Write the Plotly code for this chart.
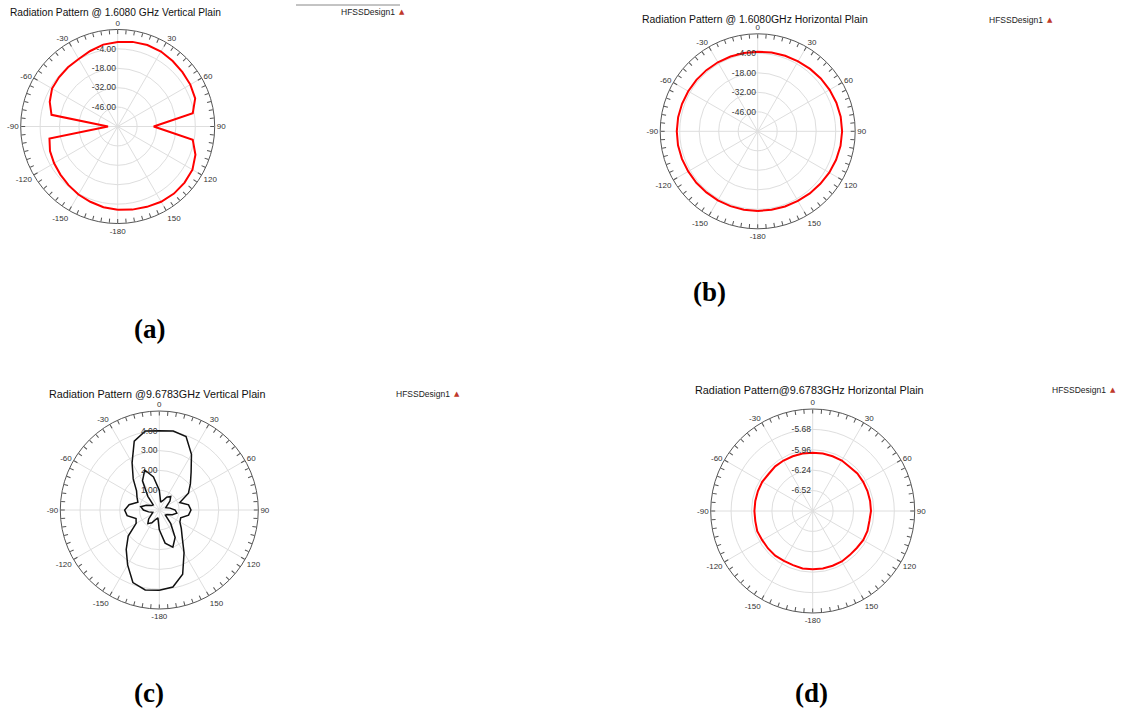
import plotly.graph_objects as go

W, H = 1121, 713

# ---------------- data ----------------
theta = [-180, -170, -160, -150, -140, -130, -120, -110, -100, -90,
         -80, -70, -60, -50, -40, -30, -20, -10, 0, 10, 20, 30, 40, 50,
         60, 70, 80, 90, 100, 110, 120, 130, 140, 150, 160, 170]

# (a) 1.6080 GHz vertical plane, dB
gain_a = [0.0, -0.8, -2.2, -3.3, -4.8, -6.0, -7.0, -8.0, -10.0, -53.0,
          -11.5, -7.8, -5.3, -4.7, -4.2, -3.7, -2.0, 0.0, 0.9, 2.0, 2.6, 2.5, 1.7, 1.0,
          0.5, -0.5, -5.0, -34.0, -5.0, -0.3, 2.3, 3.0, 3.2, 2.7, 1.7, 0.9]

# (b) 1.6080 GHz horizontal plane, dB
gain_b = [-2.8, -2.8, -2.8, -2.8, -2.7, -2.5, -2.4, -2.1, -1.9, -1.9,
          -2.0, -2.2, -2.4, -2.6, -2.7, -2.8, -2.9, -2.9, -2.8, -2.6, -2.3, -2.0, -1.5, -0.9,
          -0.4, 0.1, 0.5, 0.6, 0.4, -0.1, -0.7, -1.3, -1.8, -2.3, -2.6, -2.8]

# (c) 9.6783 GHz vertical plane (two cuts)
gain_c_outer = [4.05, 4.1, 3.9, 3.2, 2.6, 2.05, 1.35, 1.25, 1.65, 1.75,
                1.55, 1.15, 1.3, 1.5, 2.05, 2.75, 3.7, 4.05, 4.0, 4.05, 3.95, 3.25, 2.5, 2.05,
                1.7, 1.1, 1.5, 1.6, 1.5, 1.15, 1.2, 1.45, 1.8, 2.5, 3.45, 3.95]
gain_c_inner = [1.0, 0.4, 0.5, 0.75, 0.9, 0.7, 0.45, 0.35, 0.55, 0.8,
                0.95, 0.7, 0.45, 0.4, 0.9, 1.7, 2.15, 1.7, 1.0, 0.4, 0.5, 0.75, 0.9, 0.7,
                0.45, 0.35, 0.55, 0.8, 0.9, 0.7, 0.45, 0.4, 0.9, 1.6, 2.0, 1.7]

# (d) 9.6783 GHz horizontal plane
gain_d = [-6.00, -6.00, -6.01, -6.01, -6.00, -6.00, -6.00, -5.99, -6.00, -6.00,
          -6.00, -6.00, -6.00, -6.01, -6.00, -6.00, -6.00, -6.00, -6.00, -6.00, -6.00, -6.00, -6.01, -6.00,
          -6.00, -6.00, -6.00, -6.00, -6.01, -6.00, -6.00, -6.01, -6.01, -6.00, -6.00, -6.00]

titles = ["Radiation Pattern @ 1.6080 GHz Vertical Plain",
          "Radiation Pattern @ 1.6080GHz Horizontal Plain",
          "Radiation Pattern @9.6783GHz Vertical Plain",
          "Radiation Pattern@9.6783GHz Horizontal Plain"]
title_sizes = [10.2, 10.45, 10.75, 10.85]
panel_labels = ["(a)", "(b)", "(c)", "(d)"]
legend_text = "HFSSDesign1"

radial_ranges = [[-60, 10], [-60, 10], [0, 5], [-6.8, -5.4]]
radial_ticks = [[-46, -32, -18, -4], [-46, -32, -18, -4], [1, 2, 3, 4],
                [-6.52, -6.24, -5.96, -5.68]]

# angular tick labels (tick positions 0..355 deg, label text in HFSS style)
angle_labels = {0: "0", 30: "30", 60: "60", 90: "90", 120: "120", 150: "150",
                180: "-180", 210: "-150", 240: "-120", 270: "-90", 300: "-60", 330: "-30"}

# ---------------- layout geometry (window pixels) ----------------
centers = [(117.7, 126.5, 97.0), (757.7, 131.3, 97.5), (159.3, 510.0, 99.0), (812.7, 511.0, 102.0)]
title_pos = [(8, 12), (640, 19.5), (47, 394), (693, 390)]
legend_pos = [(339, 12), (987, 20), (394, 394), (1050, 390)]
label_pos = [(149, 329), (709, 292), (149, 693), (811, 693)]

def closed(v):
    return list(v) + [v[0]]

def px(x):
    return x / W

def py(y):
    return 1 - y / H

th_closed = theta + [180]

fig = go.Figure()

layout = dict(width=W, height=H, margin=dict(l=0, r=0, t=0, b=0),
              paper_bgcolor="white", showlegend=False)

tick5 = list(range(0, 360, 5))
ticktext5 = [angle_labels.get(t, "") for t in tick5]

annotations = []
for i in range(4):
    cx, cy, R = centers[i]
    dom = dict(x=[px(cx - R), px(cx + R)], y=[py(cy + R), py(cy - R)])
    gid = "polar%d" % (i + 1) if i else "polar"
    mid = "polar%d" % (i + 5)
    # grid polar (underneath)
    layout[gid] = dict(
        domain=dom, bgcolor="white", hole=0,
        angularaxis=dict(rotation=90, direction="clockwise", dtick=30, showgrid=True,
                         gridcolor="#dedede", gridwidth=1, showticklabels=False,
                         ticks="", showline=False),
        radialaxis=dict(range=radial_ranges[i], tickvals=radial_ticks[i], showgrid=True,
                        gridcolor="#dedede", gridwidth=1, showticklabels=False,
                        ticks="", showline=False),
    )
    # main polar with data, outer ring, ticks and labels
    layout[mid] = dict(
        domain=dom, bgcolor="rgba(0,0,0,0)", hole=0,
        angularaxis=dict(rotation=90, direction="clockwise", tickmode="array",
                         tickvals=tick5, ticktext=ticktext5, showgrid=False,
                         ticks="inside", ticklen=4, tickcolor="#555", tickwidth=1,
                         showline=True, linecolor="#555", linewidth=1,
                         tickfont=dict(family="Liberation Sans", size=8, color="#333")),
        radialaxis=dict(range=radial_ranges[i], tickvals=radial_ticks[i],
                        ticktext=["%.2f" % v for v in radial_ticks[i]],
                        showgrid=False, showline=False, ticks="", angle=90, tickangle=90,
                        side="counterclockwise",
                        tickfont=dict(family="Liberation Sans", size=8.5, color="#333")),
    )
    fig.add_trace(go.Scatterpolar(r=[], theta=[], subplot=gid, mode="lines",
                                  hoverinfo="skip"))

    tx, ty = title_pos[i]
    annotations.append(dict(x=px(tx), y=py(ty), xref="paper", yref="paper",
                            xanchor="left", yanchor="middle", text=titles[i], showarrow=False,
                            font=dict(family="Liberation Sans", size=title_sizes[i], color="#111")))
    lx, ly = legend_pos[i]
    annotations.append(dict(x=px(lx), y=py(ly), xref="paper", yref="paper",
                            xanchor="left", yanchor="middle", text=legend_text, showarrow=False,
                            font=dict(family="Liberation Sans", size=8.5, color="#222")))
    annotations.append(dict(x=px(lx + 63), y=py(ly), xref="paper", yref="paper",
                            xanchor="center", yanchor="middle", text="▲", showarrow=False,
                            font=dict(family="DejaVu Sans", size=7, color="#c0392b")))
    lbx, lby = label_pos[i]
    annotations.append(dict(x=px(lbx), y=py(lby), xref="paper", yref="paper",
                            xanchor="center", yanchor="middle", text="<b>%s</b>" % panel_labels[i],
                            showarrow=False,
                            font=dict(family="Liberation Serif", size=27, color="#000")))

# data traces
fig.add_trace(go.Scatterpolar(r=closed(gain_a), theta=th_closed, subplot="polar5", mode="lines",
                              line=dict(color="#ff0000", width=2)))
fig.add_trace(go.Scatterpolar(r=closed(gain_b), theta=th_closed, subplot="polar6", mode="lines",
                              line=dict(color="#ff0000", width=2)))
fig.add_trace(go.Scatterpolar(r=closed(gain_c_outer), theta=th_closed, subplot="polar7", mode="lines",
                              line=dict(color="#111111", width=1.5)))
fig.add_trace(go.Scatterpolar(r=closed(gain_c_inner), theta=th_closed, subplot="polar7", mode="lines",
                              line=dict(color="#111111", width=1.5)))
fig.add_trace(go.Scatterpolar(r=closed(gain_d), theta=th_closed, subplot="polar8", mode="lines",
                              line=dict(color="#ff0000", width=2)))

layout["annotations"] = annotations
layout["shapes"] = [dict(type="line", xref="paper", yref="paper",
                         x0=px(296), x1=px(400), y0=py(5), y1=py(5),
                         line=dict(color="#888", width=1))]
fig.update_layout(**layout)

fig.write_html("out.html", config={"displayModeBar": False},
               post_script="document.body.style.margin='0px';document.body.style.overflow='hidden';")
